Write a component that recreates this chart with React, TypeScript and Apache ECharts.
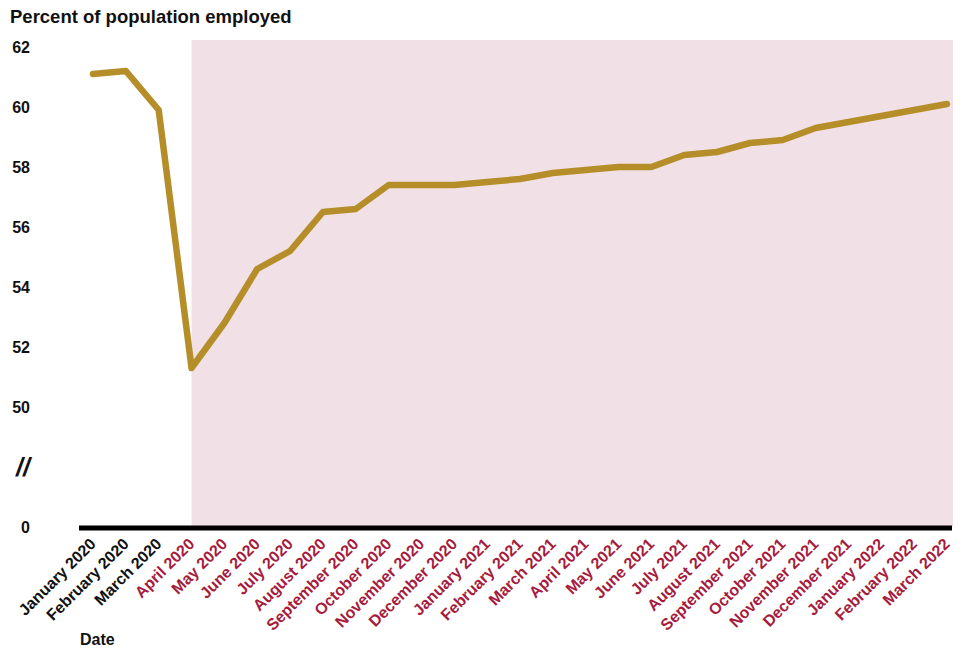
import React, { useEffect, useRef } from "react";
import * as echarts from "echarts";

const categories = [
  "January 2020", "February 2020", "March 2020", "April 2020", "May 2020", "June 2020",
  "July 2020", "August 2020", "September 2020", "October 2020", "November 2020", "December 2020",
  "January 2021", "February 2021", "March 2021", "April 2021", "May 2021", "June 2021",
  "July 2021", "August 2021", "September 2021", "October 2021", "November 2021", "December 2021",
  "January 2022", "February 2022", "March 2022",
];
const employed = [
  61.1, 61.2, 59.9, 51.3, 52.8, 54.6, 55.2, 56.5, 56.6, 57.4, 57.4, 57.4,
  57.5, 57.6, 57.8, 57.9, 58.0, 58.0, 58.4, 58.5, 58.8, 58.9, 59.3, 59.5,
  59.7, 59.9, 60.1,
];
// y-axis tick values and their displayed labels (broken axis)
const yTicks = [46, 48, 50, 52, 54, 56, 58, 60, 62];
const yTickLabels = ["0", "//", "50", "52", "54", "56", "58", "60", "62"];
const shadeStart = "April 2020";

const FONT = "'Liberation Sans', Arial, sans-serif";
const LINE_COLOR = "#B58E2A";
const SHADE = "#F1E1E6";
const RED = "#A51C3D";

export default function App() {
  const ref = useRef<HTMLDivElement>(null);
  useEffect(() => {
    document.body.style.margin = "0";
    const chart = echarts.init(ref.current!, null, { renderer: "svg" });
    const option: any = {
      animation: false,
      backgroundColor: "#ffffff",
      title: [
        {
          text: "Percent of population employed",
          left: 5,
          top: 2,
          textStyle: { fontFamily: FONT, fontSize: 18.5, fontWeight: "bold", color: "#111" },
        },
        {
          text: "Date",
          left: 75,
          top: 626,
          textStyle: { fontFamily: FONT, fontSize: 16, fontWeight: "bold", color: "#111" },
        },
      ],
      grid: { left: 93, right: 20, top: 47, bottom: 126, containLabel: false },
      xAxis: {
        type: "category",
        data: categories,
        boundaryGap: false,
        axisLine: { show: false },
        axisTick: { show: false },
        splitLine: { show: false },
        axisLabel: {
          interval: 0,
          rotate: 45,
          margin: 14,
          fontFamily: FONT,
          fontSize: 16,
          fontWeight: "bold",
          color: (_v: string, i: number) =>
            i >= categories.indexOf(shadeStart) ? RED : "#111",
        },
      },
      yAxis: {
        type: "value",
        min: yTicks[0],
        max: yTicks[yTicks.length - 1],
        interval: 2,
        axisLine: { show: false },
        axisTick: { show: false },
        splitLine: { show: false },
        axisLabel: {
          margin: 63,
          align: "right",
          fontFamily: FONT,
          fontSize: 16,
          fontWeight: "bold",
          color: "#111",
          formatter: (v: number) => {
            const i = yTicks.indexOf(v);
            if (i < 0) return "";
            return yTickLabels[i] === "//" ? "{brk|//}" : yTickLabels[i];
          },
          rich: {
            brk: { fontFamily: FONT, fontSize: 25, fontWeight: "bold", fontStyle: "italic", color: "#111" },
          },
        },
      },
      series: [
        {
          type: "line",
          data: employed,
          symbol: "none",
          z: 5,
          lineStyle: { color: LINE_COLOR, width: 6.5, cap: "round", join: "round" },
        },
      ],
    };
    chart.setOption(option);

    const x0 = chart.convertToPixel({ xAxisIndex: 0 }, shadeStart) as number;
    const xFirst = chart.convertToPixel({ xAxisIndex: 0 }, categories[0]) as number;
    const xLast = chart.convertToPixel({ xAxisIndex: 0 }, categories[categories.length - 1]) as number;
    const yBase = chart.convertToPixel({ yAxisIndex: 0 }, yTicks[0]) as number;
    const yTop = chart.convertToPixel({ yAxisIndex: 0 }, yTicks[yTicks.length - 1]) as number;

    chart.setOption({
      graphic: [
        {
          type: "rect",
          z: -10,
          silent: true,
          shape: { x: x0, y: yTop - 7, width: xLast + 6 - x0, height: yBase - (yTop - 7) },
          style: { fill: SHADE },
        },
        {
          type: "line",
          z: 10,
          silent: true,
          shape: { x1: xFirst - 14, y1: yBase + 1, x2: xLast + 5, y2: yBase + 1 },
          style: { stroke: "#000", lineWidth: 5 },
        },
      ],
    });

    return () => chart.dispose();
  }, []);
  return <div ref={ref} style={{ width: 967, height: 653 }} />;
}
